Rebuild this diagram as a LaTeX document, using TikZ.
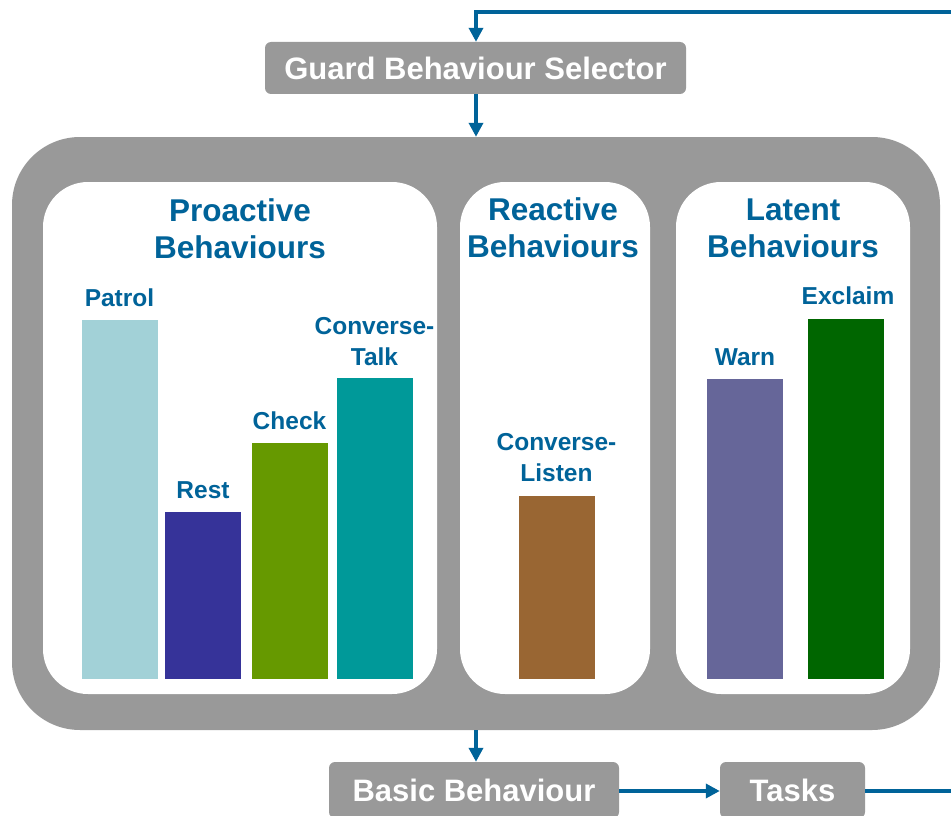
\documentclass[tikz,border=0pt]{standalone}
\usepackage{fontspec}
\setmainfont{Liberation Sans}
\usetikzlibrary{arrows.meta}
\definecolor{flowblue}{HTML}{006399}
\definecolor{boxgray}{HTML}{999999}
\definecolor{cpatrol}{HTML}{A2D1D7}
\definecolor{crest}{HTML}{363399}
\definecolor{ccheck}{HTML}{669900}
\definecolor{ctalk}{HTML}{009999}
\definecolor{clisten}{HTML}{996633}
\definecolor{cwarn}{HTML}{666699}
\definecolor{cexclaim}{HTML}{006600}
\tikzset{
  graybox/.style={fill=boxgray, rounded corners=6pt, text=white, font=\fontsize{31}{36}\selectfont\bfseries, inner sep=0pt},
  outerbox/.style={fill=boxgray, rounded corners=68pt, inner sep=0pt},
  innerbox/.style={fill=white, rounded corners=45pt, inner sep=0pt},
  heading/.style={text=flowblue, font=\fontsize{31.5}{37}\selectfont\bfseries, align=center, anchor=south, inner sep=0pt, text depth=0pt},
  barlabel/.style={text=flowblue, font=\fontsize{24.5}{31}\selectfont\bfseries, align=center, anchor=south, inner sep=0pt, text depth=0pt},
  barbox/.style={minimum width=76pt, anchor=south, inner sep=0pt},
  flow/.style={draw=flowblue, line width=4.5pt},
  flowarrow/.style={flow, -{Triangle[length=14pt,width=14pt]}}
}
\begin{document}
\begin{tikzpicture}[x=1pt,y=-1pt]
\useasboundingbox (0,0) rectangle (951,816);
\fill[white] (0,0) rectangle (951,816);
% outer container
\node[outerbox, minimum width=928pt, minimum height=593pt] (outer) at (476,433.5) {};
\node[innerbox, minimum width=394pt, minimum height=512pt] (proactive) at (240,438) {};
\node[innerbox, minimum width=190pt, minimum height=512pt] (reactive) at (555,438) {};
\node[innerbox, minimum width=234pt, minimum height=512pt] (latent) at (793,438) {};
% headings
\node[heading] (hpro) at (240,259) {Proactive\\Behaviours};
\node[heading] (hrea) at (553,258) {Reactive\\Behaviours};
\node[heading] (hlat) at (793,258) {Latent\\Behaviours};
% bars
\node[barbox, fill=cpatrol, minimum height=359pt] (patrol) at (119.5,679) {};
\node[barbox, fill=crest, minimum height=167pt] (rest) at (203,679) {};
\node[barbox, fill=ccheck, minimum height=236pt] (check) at (289.5,679) {};
\node[barbox, fill=ctalk, minimum height=301pt] (talk) at (374.5,679) {};
\node[barbox, fill=clisten, minimum height=183pt] (listen) at (556.5,679) {};
\node[barbox, fill=cwarn, minimum height=300pt] (warn) at (745,679) {};
\node[barbox, fill=cexclaim, minimum height=360pt] (exclaim) at (846,679) {};
% bar labels
\node[barlabel] (lpatrol) at (119.5,307) {Patrol};
\node[barlabel] (lrest) at (203,499) {Rest};
\node[barlabel] (lcheck) at (289.5,430) {Check};
\node[barlabel] (ltalk) at (374.5,366) {Converse-\\Talk};
\node[barlabel] (llisten) at (556.5,482) {Converse-\\Listen};
\node[barlabel] (lwarn) at (745,366) {Warn};
\node[barlabel] (lexclaim) at (848,305) {Exclaim};
% flow boxes
\node[graybox, minimum width=421pt, minimum height=52pt] (guard) at (475.5,68) {Guard Behaviour Selector};
\node[graybox, minimum width=290pt, minimum height=56pt] (basic) at (474,790) {Basic Behaviour};
\node[graybox, minimum width=145pt, minimum height=56pt] (tasks) at (792.5,790) {Tasks};
% connectors
\coordinate (topright) at (951,12);
\coordinate (topturn) at (476,12);
\coordinate (bottomright) at (951,791);
\draw[flowarrow] (topright) -- (topturn) -- (guard.north -| topturn);
\draw[flowarrow] (guard.south -| topturn) -- (outer.north -| topturn);
\draw[flowarrow] (outer.south -| topturn) -- (basic.north -| topturn);
\draw[flowarrow] (basic.east |- bottomright) -- (tasks.west |- bottomright);
\draw[flow] (tasks.east |- bottomright) -- (bottomright);
\end{tikzpicture}
\end{document}
